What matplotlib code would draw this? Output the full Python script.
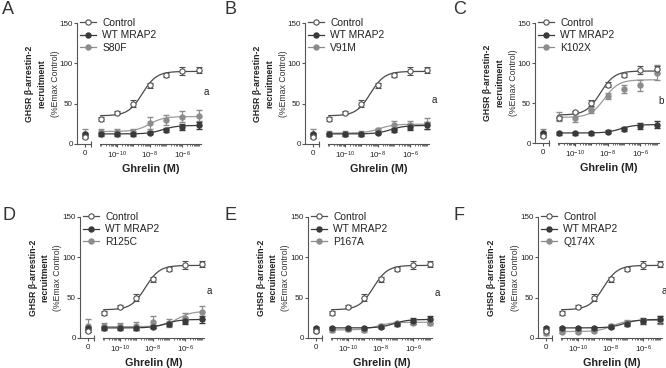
import matplotlib
matplotlib.use('Agg')
import matplotlib.pyplot as plt
import numpy as np
from matplotlib.lines import Line2D
from matplotlib.ticker import LogLocator, NullFormatter, FixedLocator

plt.rcParams['font.family'] = ['Liberation Sans', 'DejaVu Sans']
plt.rcParams['mathtext.fontset'] = 'custom'
plt.rcParams['mathtext.rm'] = 'Liberation Sans'
plt.rcParams['mathtext.it'] = 'Liberation Sans:italic'
plt.rcParams['mathtext.bf'] = 'Liberation Sans:bold'

# ghrelin concentrations (M)
conc = [1e-11, 1e-10, 1e-9, 1e-8, 1e-7, 1e-6, 1e-5]

# control (no MRAP2)
control_y = [31, 39, 50, 73, 85, 91, 92]
control_err = [2, 1.5, 4, 3, 2.5, 5, 4]
control_zero = 9
control_zero_err = 2
control_fit = (35, 90, -8.45)   # bottom, top, logEC50

# wild type MRAP2
wt_y = [12, 12, 12, 14, 17, 21, 23]
wt_err = [2, 2, 2, 2, 2.5, 4, 4]
wt_zero = 12
wt_zero_err = 2
wt_fit = (12.5, 23, -7.2)

# mutants, one per panel
panel_letters = ['A', 'B', 'C', 'D', 'E', 'F']
mutant_names = ['S80F', 'V91M', 'K102X', 'R125C', 'P167A', 'Q174X']
mutant_y = [
    [15, 15, 15, 26, 30, 34, 35],
    [13, 13, 13, 17, 23, 23, 25],
    [33, 31, 41, 59, 68, 72, 88],
    [15, 15, 15, 20, 19, 25, 32],
    [10, 11, 10, 15, 18, 19, 19],
    [8, 8, 9, 15, 19, 21, 22],
]
mutant_err = [
    [4, 4, 3, 7, 6, 7, 7],
    [3, 3, 3, 3, 5, 5, 7],
    [6, 5, 4, 4, 5, 7, 9],
    [4, 4, 5, 7, 5, 6, 8],
    [2, 2, 2, 2, 2, 2, 3],
    [2, 2, 2, 2, 3, 3, 5],
]
mutant_zero = [13, 13, 13, 15, 9, 6]
mutant_zero_err = [5, 5, 5, 8, 2, 2]
mutant_fit = [
    (15.5, 34, -8.0),
    (13.5, 24.5, -7.9),
    (32, 79, -8.2),
    (14, 33, -6.5),
    (10, 19.5, -8.2),
    (8, 22, -7.9),
]
stat_letters = ['a', 'a', 'b', 'a', 'a', 'a']
stat_y = [65, 55, 52, 58, 56, 58]
stat_logx = [-4.55, -4.55, -4.72, -4.55, -4.55, -4.72]

# layout in pixels: x of y-axis, y of 150, y of 0
W, H = 666, 368
axis_x = [77, 305, 535, 80, 308, 538]
row_top = [23, 23, 23, 217, 217, 217]
row_bot = [144, 144, 143, 338, 338, 338]
panel_origin = [(0, 0), (222, 0), (444, 0), (0, 184), (222, 184), (444, 184)]

c_ctrl = '#505050'
c_wt = '#3a3a3a'
c_mut = '#8c8c8c'
c_axis = '#555555'


def hill(x, bottom, top, logec50):
    return bottom + (top - bottom) / (1 + 10 ** (logec50 - np.log10(x)))


def px_box(x0, x1, ytop, ybot):
    return [x0 / W, 1 - ybot / H, (x1 - x0) / W, (ybot - ytop) / H]


fig = plt.figure(figsize=(W / 100, H / 100), dpi=100)

for i in range(6):
    X = axis_x[i]
    yt, yb = row_top[i], row_bot[i]
    ax0 = fig.add_axes(px_box(X, X + 14, yt, yb))
    ax1 = fig.add_axes(px_box(X + 23, X + 124, yt, yb))

    # --- zero concentration segment
    ax0.set_xlim(-1, 0.75)
    ax0.set_ylim(0, 150)
    for s in ['top', 'right']:
        ax0.spines[s].set_visible(False)
    for s in ['left', 'bottom']:
        ax0.spines[s].set_linewidth(0.8)
        ax0.spines[s].set_color(c_axis)
    ax0.set_yticks([0, 50, 100, 150])
    ax0.set_xticks([0])
    ax0.set_xticklabels(['0'])
    ax0.xaxis.set_minor_locator(FixedLocator([0.75]))
    ax0.tick_params(axis='both', which='major', labelsize=5.8, length=2,
                    width=0.8, color=c_axis, pad=1, labelcolor='#222222')
    ax0.tick_params(axis='x', which='major', pad=2.5)
    ax0.tick_params(axis='x', which='minor', length=5, width=0.8,
                    direction='inout', color=c_axis)
    ax0.errorbar([0], [mutant_zero[i]], yerr=[mutant_zero_err[i]], fmt='o',
                 color=c_mut, ms=3.6, capsize=2, elinewidth=0.8, clip_on=False)
    ax0.errorbar([0], [wt_zero], yerr=[wt_zero_err], fmt='o', color=c_wt,
                 ms=3.6, capsize=2, elinewidth=0.8, clip_on=False)
    ax0.errorbar([0], [control_zero], yerr=[control_zero_err], fmt='o',
                 color=c_ctrl, mfc='white', ms=3.8, mew=0.8, capsize=2,
                 elinewidth=0.8, clip_on=False)

    # --- log concentration segment
    ax1.set_xscale('log')
    ax1.set_xlim(10 ** -11.05, 10 ** -4.85)
    ax1.set_ylim(0, 150)
    for s in ['top', 'right', 'left']:
        ax1.spines[s].set_visible(False)
    ax1.spines['bottom'].set_linewidth(0.8)
    ax1.spines['bottom'].set_color(c_axis)
    ax1.set_yticks([])
    ax1.xaxis.set_major_locator(FixedLocator([1e-10, 1e-8, 1e-6]))
    ax1.set_xticklabels([r'$10^{-10}$', r'$10^{-8}$', r'$10^{-6}$'])
    ax1.xaxis.set_minor_locator(LogLocator(base=10, subs=np.arange(1, 10), numticks=20))
    ax1.xaxis.set_minor_formatter(NullFormatter())
    ax1.tick_params(axis='x', which='major', labelsize=5.8, length=2.5, width=0.8,
                    color=c_axis, pad=1.5, labelcolor='#222222')
    ax1.tick_params(axis='x', which='minor', length=1.6, width=0.6, color=c_axis)
    ax1.set_xlabel('Ghrelin (M)', fontsize=7.8, fontweight='bold', labelpad=2,
                   color='#222222')

    xs = np.logspace(-11, -5, 200)
    # fitted curves
    ax1.plot(xs, hill(xs, *mutant_fit[i]), color='#9a9a9a', lw=0.9)
    ax1.plot(xs, hill(xs, *wt_fit), color='#3a3a3a', lw=0.9)
    ax1.plot(xs, hill(xs, *control_fit), color='#4a4a4a', lw=0.9)
    # data points
    ax1.errorbar(conc, mutant_y[i], yerr=mutant_err[i], fmt='o', color=c_mut,
                 ms=3.6, capsize=2, elinewidth=0.8, clip_on=False)
    ax1.errorbar(conc, wt_y, yerr=wt_err, fmt='o', color=c_wt, ms=3.6,
                 capsize=2, elinewidth=0.8, clip_on=False)
    ax1.errorbar(conc, control_y, yerr=control_err, fmt='o', color=c_ctrl,
                 mfc='white', ms=3.8, mew=0.8, capsize=2, elinewidth=0.8,
                 clip_on=False)

    ax1.text(10 ** stat_logx[i], stat_y[i], stat_letters[i], fontsize=7,
             ha='center', va='center', color='#222222', clip_on=False)

    # y label, three lines
    ymid = 1 - (yt + yb) / 2 / H
    fig.text((X - 47) / W, ymid, u'GHSR \u03b2-arrestin-2', rotation=90,
             fontsize=6.3, fontweight='bold', ha='center', va='center',
             color='#222222')
    fig.text((X - 35) / W, ymid, 'recruitment', rotation=90, fontsize=6.3,
             fontweight='bold', ha='center', va='center', color='#222222')
    fig.text((X - 22) / W, ymid, '(%Emax Control)', rotation=90, fontsize=6.3,
             ha='center', va='center', color='#333333')

    # legend
    handles = [
        Line2D([], [], color=c_ctrl, marker='o', mfc='white', ms=3.8, mew=0.8, lw=0.9),
        Line2D([], [], color=c_wt, marker='o', ms=3.6, lw=0.9),
        Line2D([], [], color=c_mut, marker='o', ms=3.6, lw=0.9),
    ]
    fig.legend(handles, ['Control', 'WT MRAP2', mutant_names[i]],
               loc='upper left', bbox_to_anchor=((X + 3) / W, 1 - (yt - 5) / H),
               frameon=False, fontsize=7.4, handlelength=1.55,
               handletextpad=0.6, labelspacing=0.22, borderpad=0,
               borderaxespad=0, labelcolor='#222222')

    # panel letter
    ox, oy = panel_origin[i]
    fig.text((ox + 2) / W + (0.011 if i in (2, 5) else 0), 1 - (oy + 1 + (22 if i >= 3 else 0)) / H,
             panel_letters[i], fontsize=13, ha='left', va='top', color='#333333')

fig.savefig('out.png', dpi=100)
